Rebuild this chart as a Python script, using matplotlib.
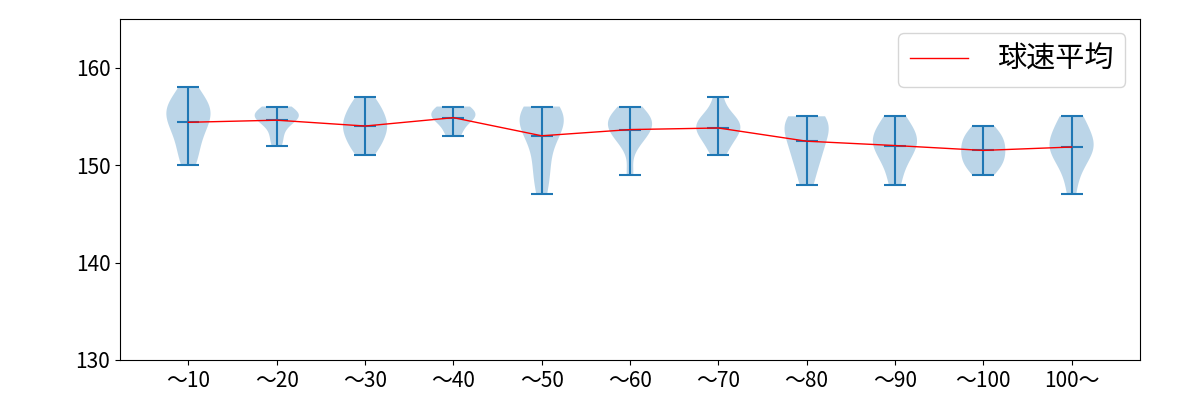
import numpy as np
import matplotlib
matplotlib.use('Agg')
import matplotlib.pyplot as plt

plt.rcParams['font.family'] = ['Noto Sans CJK JP', 'DejaVu Sans']

# 区分ラベル
labels = ['～10', '～20', '～30', '～40', '～50', '～60', '～70', '～80', '～90', '～100', '100～']

# 各区分の球速 (km/h)
speeds_10 = [150, 151, 152, 153, 154, 154, 155, 155, 156, 156, 156, 157, 158]
speeds_20 = [152, 153, 154, 155, 155, 155, 155, 155, 156, 156]
speeds_30 = [151, 152, 152, 153, 153, 154, 154, 154, 155, 155, 156, 156, 157]
speeds_40 = [153, 154, 155, 155, 155, 156, 156]
speeds_50 = [147, 149, 150, 152, 153, 154, 154, 155, 155, 155, 156, 156]
speeds_60 = [149, 152, 153, 153, 154, 154, 154, 155, 155, 155, 156]
speeds_70 = [151, 152, 153, 153, 154, 154, 154, 155, 155, 157]
speeds_80 = [148, 150, 151, 152, 153, 154, 154, 155, 155]
speeds_90 = [148, 150, 151, 152, 152, 153, 153, 154, 155]
speeds_100 = [149, 150, 150, 151, 151, 152, 152, 153, 153, 154]
speeds_over = [147, 149, 150, 151, 151, 152, 152, 152, 153, 153, 154, 155, 155]

data = [speeds_10, speeds_20, speeds_30, speeds_40, speeds_50, speeds_60,
        speeds_70, speeds_80, speeds_90, speeds_100, speeds_over]
positions = np.arange(1, len(data) + 1)
means = [np.mean(d) for d in data]

fig = plt.figure(figsize=(12, 4), dpi=100)
ax = fig.add_subplot(111)
fig.subplots_adjust(left=0.1, right=0.95, top=0.953, bottom=0.1)

ax.violinplot(data, positions=positions, showmeans=True)
ax.plot(positions, means, color='red', linewidth=1, label='球速平均')

ax.set_ylim(130, 165)
ax.set_yticks([130, 140, 150, 160])
ax.set_xticks(positions)
ax.set_xticklabels(labels)
ax.tick_params(labelsize=15)
ax.legend(loc='upper right', fontsize=21, handletextpad=1.0)

plt.savefig('out.png')
